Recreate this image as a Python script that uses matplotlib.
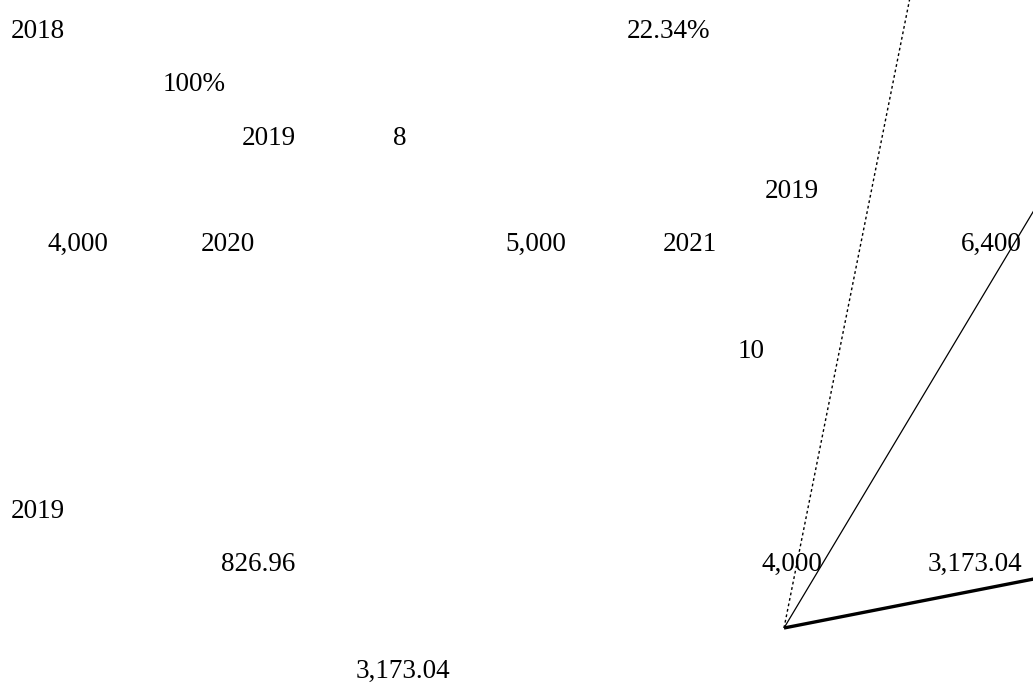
import numpy as np
import matplotlib
matplotlib.use("Agg")
import matplotlib.pyplot as plt

# Labels as they sit in the picture: text, row index, column centre (px)
labels = ["2018", "22.34%", "100%", "2019", "8", "2019",
          "4,000", "2020", "5,000", "2021", "6,400", "10",
          "2019", "826.96", "4,000", "3,173.04", "3,173.04"]
label_rows = [0, 0, 1, 2, 2, 3,
              4, 4, 4, 4, 4, 6,
              9, 10, 10, 10, 12]
label_x = [38, 669, 194, 269, 400, 792,
           78, 228, 536, 690, 991, 751,
           38, 258, 792, 975, 403]

# Rays from the common centre (angle in degrees above horizontal)
ray_angles = [78.7, 59.1, 11.1]
ray_styles = [(0, (2, 2)), "-", "-"]
ray_widths = [1.0, 0.9, 2.4]
centre = (784, 628)

fig = plt.figure(figsize=(10.33, 6.98), dpi=100)
ax = fig.add_axes([0, 0, 1, 1])
ax.set_xlim(0, 1033)
ax.set_ylim(698, 0)
ax.axis("off")

row_step = 53.33
baseline0 = 38
for text, row, x in zip(labels, label_rows, label_x):
    ax.text(x, baseline0 + row * row_step, text, ha="center", va="baseline",
            fontsize=19.5, family="Liberation Serif", color="black")

# Draw each ray long enough to run off the frame; axes clip it
for ang, ls, lw in zip(ray_angles, ray_styles, ray_widths):
    r = np.radians(ang)
    length = 2000
    x1 = centre[0] + length * np.cos(r)
    y1 = centre[1] - length * np.sin(r)
    ax.plot([centre[0], x1], [centre[1], y1], color="black",
            linestyle=ls, linewidth=lw, solid_capstyle="butt")

fig.savefig("out.png", dpi=100)
